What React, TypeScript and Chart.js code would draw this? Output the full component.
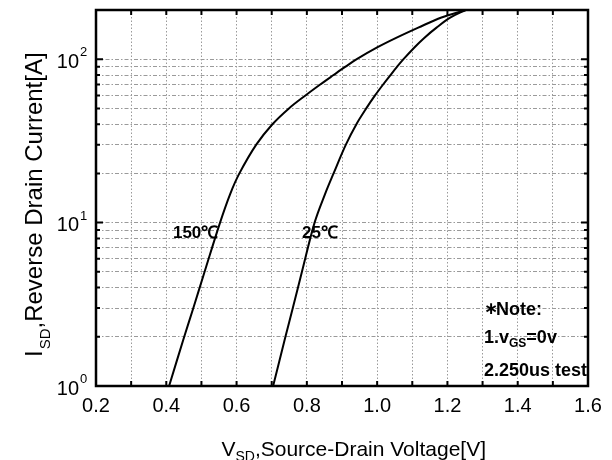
import React, { useEffect, useRef } from "react";
import { Chart, registerables } from "chart.js";

Chart.register(...registerables);

// ---- data ----
const currents150 = [1, 2, 3, 5, 10, 15, 20, 30, 40, 50, 60, 70, 80, 90, 100, 118, 135, 156, 180, 200];
const voltages150 = [0.408, 0.451, 0.477, 0.509, 0.553, 0.582, 0.608, 0.656, 0.702, 0.749, 0.796, 0.838, 0.876, 0.91, 0.942, 1.0, 1.054, 1.117, 1.183, 1.252];
const currents25 = [1, 2, 3, 5, 10, 15, 20, 30, 40, 50, 60, 70, 80, 90, 100, 118, 135, 156, 180, 200];
const voltages25 = [0.704, 0.739, 0.76, 0.786, 0.822, 0.852, 0.876, 0.911, 0.941, 0.969, 0.994, 1.017, 1.038, 1.057, 1.075, 1.106, 1.134, 1.169, 1.209, 1.252];

const xMin = 0.2;
const xMax = 1.6;
const yMin = 1;
const yMax = 200;
const xGridValues = [0.2, 0.3, 0.4, 0.5, 0.6, 0.7, 0.8, 0.9, 1.0, 1.1, 1.2, 1.3, 1.4, 1.5, 1.6];
const xTickLabels = ["0.2", "0.4", "0.6", "0.8", "1.0", "1.2", "1.4", "1.6"];
const xTickValues = [0.2, 0.4, 0.6, 0.8, 1.0, 1.2, 1.4, 1.6];
const yGridValues = [1, 2, 3, 4, 5, 6, 7, 8, 9, 10, 20, 30, 40, 50, 60, 70, 80, 90, 100, 200];
const yMajorExponents = [0, 1, 2];

const curveLabels = ["150℃", "25℃"];
const curveLabelV = [0.419, 0.786];
const curveLabelI = [8.6, 8.6];

const noteLines = ["Note:", "1.v", "GS", "=0v", "2.250us test"];

const FONT = "'Liberation Sans', Arial, Helvetica, sans-serif";

const decorPlugin = {
  id: "decor",
  afterDraw(chart: any) {
    const ctx = chart.ctx as CanvasRenderingContext2D;
    const area = chart.chartArea;
    const xs = chart.scales.x;
    const ys = chart.scales.y;
    ctx.save();
    ctx.fillStyle = "#000";
    ctx.strokeStyle = "#000";

    // inward tick marks
    ctx.lineWidth = 2;
    ctx.beginPath();
    xGridValues.forEach((v) => {
      const px = xs.getPixelForValue(v);
      ctx.moveTo(px, area.top);
      ctx.lineTo(px, area.top + 5);
      ctx.moveTo(px, area.bottom);
      ctx.lineTo(px, area.bottom - 5);
    });
    yGridValues.forEach((v) => {
      const py = ys.getPixelForValue(v);
      const major = [1, 10, 100].includes(v);
      const len = major ? 7 : 4;
      ctx.moveTo(area.left, py);
      ctx.lineTo(area.left + len, py);
      ctx.moveTo(area.right, py);
      ctx.lineTo(area.right - len, py);
    });
    ctx.stroke();

    // frame
    ctx.lineWidth = 2.5;
    ctx.strokeRect(area.left, area.top, area.right - area.left, area.bottom - area.top);

    // x tick labels
    ctx.font = `20px ${FONT}`;
    ctx.textAlign = "center";
    ctx.textBaseline = "alphabetic";
    xTickValues.forEach((v, i) => {
      ctx.fillText(xTickLabels[i], xs.getPixelForValue(v), area.bottom + 26);
    });

    // y tick labels 10^n
    yMajorExponents.forEach((e) => {
      const py = ys.getPixelForValue(Math.pow(10, e));
      ctx.font = `20px ${FONT}`;
      ctx.textAlign = "right";
      ctx.fillText("10", area.left - 17, py + 8.5);
      ctx.font = `13px ${FONT}`;
      ctx.textAlign = "left";
      ctx.fillText(String(e), area.left - 16, py - 3);
    });

    // x title with subscript
    {
      const base = 456;
      ctx.textAlign = "left";
      ctx.font = `21px ${FONT}`;
      const wV = ctx.measureText("V").width;
      const rest = ",Source-Drain Voltage[V]";
      const wRest = ctx.measureText(rest).width;
      ctx.font = `14px ${FONT}`;
      const wSub = ctx.measureText("SD").width;
      const start = 486 - (wV + wSub + wRest);
      ctx.font = `21px ${FONT}`;
      ctx.fillText("V", start, base);
      ctx.font = `14px ${FONT}`;
      ctx.fillText("SD", start + wV, base + 5);
      ctx.font = `21px ${FONT}`;
      ctx.fillText(rest, start + wV + wSub, base);
    }

    // y title rotated with subscript
    {
      ctx.save();
      ctx.translate(42, 357);
      ctx.rotate(-Math.PI / 2);
      ctx.textAlign = "left";
      ctx.font = `24px ${FONT}`;
      const wI = ctx.measureText("I").width;
      ctx.fillText("I", 0, 0);
      ctx.font = `15px ${FONT}`;
      const wSub = ctx.measureText("SD").width;
      ctx.fillText("SD", wI + 1, 8);
      ctx.font = `24px ${FONT}`;
      ctx.fillText(",Reverse Drain Current[A]", wI + 1 + wSub, 0);
      ctx.restore();
    }

    // curve labels
    ctx.font = `bold 17px ${FONT}`;
    ctx.textAlign = "left";
    ctx.textBaseline = "middle";
    curveLabels.forEach((t, i) => {
      ctx.fillText(t, xs.getPixelForValue(curveLabelV[i]), ys.getPixelForValue(curveLabelI[i]));
    });

    // note block
    const nx = area.right - 104;
    ctx.font = `bold 17px 'DejaVu Sans', sans-serif`;
    ctx.fillText("∗", nx, area.bottom - 76);
    ctx.font = `bold 18px ${FONT}`;
    ctx.fillText(noteLines[0], nx + 12, area.bottom - 76);
    ctx.fillText(noteLines[1], nx, area.bottom - 48);
    const w = ctx.measureText(noteLines[1]).width;
    ctx.font = `bold 12px ${FONT}`;
    ctx.fillText(noteLines[2], nx + w, area.bottom - 42);
    const w2 = ctx.measureText(noteLines[2]).width;
    ctx.font = `bold 18px ${FONT}`;
    ctx.fillText(noteLines[3], nx + w + w2, area.bottom - 48);
    ctx.fillText(noteLines[4], nx, area.bottom - 15);

    ctx.restore();
  },
};

export default function App() {
  const ref = useRef<HTMLCanvasElement | null>(null);

  useEffect(() => {
    if (!ref.current) return;
    const chart = new Chart(ref.current, {
      type: "line",
      data: {
        datasets: [
          {
            label: "150℃",
            data: voltages150.map((v, i) => ({ x: v, y: currents150[i] })),
            borderColor: "#000",
            borderWidth: 2,
            pointRadius: 0,
            tension: 0.35,
            fill: false,
          },
          {
            label: "25℃",
            data: voltages25.map((v, i) => ({ x: v, y: currents25[i] })),
            borderColor: "#000",
            borderWidth: 2,
            pointRadius: 0,
            tension: 0.35,
            fill: false,
          },
        ],
      },
      options: {
        responsive: false,
        animation: false,
        events: [],
        layout: { padding: { left: 96, top: 10, right: 24, bottom: 74 } },
        plugins: { legend: { display: false }, tooltip: { enabled: false } },
        scales: {
          x: {
            type: "linear",
            min: xMin,
            max: xMax,
            afterBuildTicks: (s: any) => {
              s.ticks = xGridValues.map((v) => ({ value: v }));
            },
            ticks: { display: false, autoSkip: false },
            grid: { color: "#9a9a9a", lineWidth: 1, drawTicks: false },
            border: { display: false, dash: [1.5, 2] },
          },
          y: {
            type: "logarithmic",
            min: yMin,
            max: yMax,
            afterBuildTicks: (s: any) => {
              s.ticks = yGridValues.map((v) => ({ value: v }));
            },
            ticks: { display: false, autoSkip: false },
            grid: { color: "#9a9a9a", lineWidth: 1, drawTicks: false },
            border: { display: false, dash: [4, 2, 1.5, 2] },
          },
        },
      },
      plugins: [decorPlugin],
    } as any);
    return () => chart.destroy();
  }, []);

  return (
    <div style={{ position: "fixed", left: 0, top: 0, width: 612, height: 460, background: "#fff" }}>
      <canvas ref={ref} width={612} height={460} style={{ display: "block" }} />
    </div>
  );
}
